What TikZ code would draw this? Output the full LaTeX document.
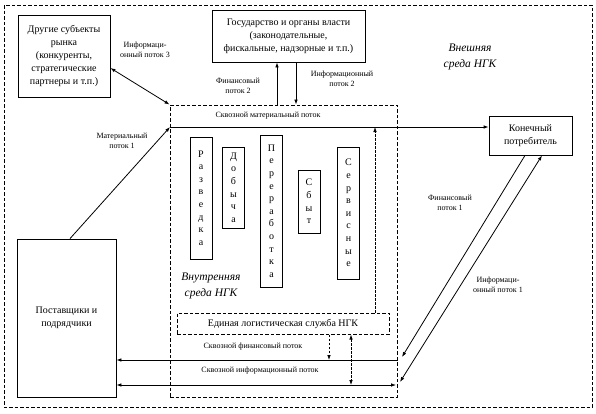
\documentclass[tikz,border=0pt]{standalone}
\usepackage{fontspec}
\setmainfont{Liberation Serif}
\usetikzlibrary{calc}
\usetikzlibrary{arrows.meta}
\newcommand*{\vwd }{22pt}
\newcommand*{\tipl}{5pt}
\newcommand*{\tipw}{3.6pt}

\begin{document}
\begin{tikzpicture}[x=1pt, y=-1pt, line width=0.8pt,
    box/.style  = {draw, align=center, inner sep=2pt, font=\fontsize{10}{13}\selectfont},
    vbox/.style = {draw, align=center, inner sep=0pt, minimum width=\vwd, font=\fontsize{10}{12.6}\selectfont},
    env/.style  = {draw, line width=1pt, dash pattern=on 3.5pt off 2pt},
    dline/.style= {line width=0.8pt, dash pattern=on 2.5pt off 1.5pt},
    lbl/.style  = {align=center, font=\fontsize{8}{10}\selectfont},
    envlbl/.style = {align=center, font=\fontsize{11.5}{16}\selectfont\itshape},
    tip/.style  = {-{Latex[length=\tipl,width=\tipw]}},
    tips/.style = {{Latex[length=\tipl,width=\tipw]}-{Latex[length=\tipl,width=\tipw]}}]
    \useasboundingbox (0,0) rectangle (596,413);
    % external environment
    \draw [env] (4,5) rectangle (592,407);
    \node [envlbl] (extlbl) at (470,57) {Внешняя\\среда НГК};
    % internal environment
    \node [env, minimum width=227pt, minimum height=292pt] (inner) at (283.5,251) {};
    \node [envlbl] (inlbl) at (211,286) {Внутренняя\\среда НГК};
    % outside parties
    \node [box, minimum width=92pt, minimum height=82pt] (other) at (64,56) {Другие субъекты\\рынка\\(конкуренты,\\стратегические\\партнеры и т.п.)};
    \node [box, minimum width=153pt, minimum height=52pt] (gov) at (288.5,36) {Государство и органы власти\\(законодательные,\\фискальные, надзорные и т.п.)};
    \node [box, minimum width=83pt, minimum height=39pt] (cons) at (530.5,135.5) {Конечный\\потребитель};
    \node [box, minimum width=99pt, minimum height=158pt] (supp) at (66.5,318) {Поставщики и\\подрядчики};
    % activities
    \node [vbox, minimum height=122pt] (razv) at (201,198)   {Р\\а\\з\\в\\е\\д\\к\\а};
    \node [vbox, minimum height=81pt]  (dob)  at (233.5,187.5) {Д\\о\\б\\ы\\ч\\а};
    \node [vbox, minimum height=152pt] (pere) at (271.5,211) {П\\е\\р\\е\\р\\а\\б\\о\\т\\к\\а};
    \node [vbox, minimum height=63pt]  (sbyt) at (309,201.5) {С\\б\\ы\\т};
    \node [vbox, minimum height=132pt] (serv) at (348.5,213) {С\\е\\р\\в\\и\\с\\н\\ы\\е};
    \node [env, font=\fontsize{10}{13}\selectfont, minimum width=212pt, minimum height=21pt] (log) at (283,323.5) {Единая логистическая служба НГК};
    % junctions
    \coordinate (mat) at (170,127);
    \coordinate (fin) at (398,360);
    \coordinate (inf) at (398,385);
    % flows
    \draw [tips] ([yshift=-12pt]other.east) -- (inner.north west);
    \node [lbl] (inf3) at (145,50) {Информаци-\\онный поток 3};
    \draw [tip] ([xshift=-11.5pt]gov.south |- inner.north) -- ([xshift=-11.5pt]gov.south);
    \draw [tip] ([xshift=7.5pt]gov.south) -- ([xshift=7.5pt]gov.south |- inner.north);
    \node [lbl] (fin2) at (238,86) {Финансовый\\поток 2};
    \node [lbl] (inf2) at (342,79) {Информационный\\поток 2};
    \draw [tip] ([xshift=3.5pt]supp.north) -- (mat);
    \node [lbl] (mat1) at (122,141) {Материальный\\поток 1};
    \draw [tip] (mat) -- (mat -| cons.west);
    \node [lbl] (matx) at (268,116) {Сквозной материальный поток};
    \draw [tip, dline] ([xshift=92pt]log.north) -- ([xshift=92pt]log.north |- mat);
    \draw [tip] ([xshift=-5.5pt]cons.south) -- ([xshift=4pt,yshift=3pt]fin);
    \draw [tip] (fin) -- (fin -| supp.east);
    \node [lbl] (fin1) at (450,203) {Финансовый\\поток 1};
    \node [lbl] (finx) at (253,347) {Сквозной финансовый поток};
    \draw [tips] (inf -| supp.east) -- ([xshift=-2pt]inf);
    \draw [tips] ([xshift=2pt,yshift=3pt]inf) -- ([xshift=11.5pt]cons.south);
    \node [lbl] (inf1) at (498,285) {Информаци-\\онный поток 1};
    \node [lbl] (infx) at (260,371) {Сквозной информационный поток};
    \draw [tip, dline] ([xshift=46pt]log.south) -- ([xshift=46pt]log.south |- fin);
    \draw [tips, dline] ([xshift=68pt]log.south) -- ([xshift=68pt]log.south |- inf);
\end{tikzpicture}
\end{document}
